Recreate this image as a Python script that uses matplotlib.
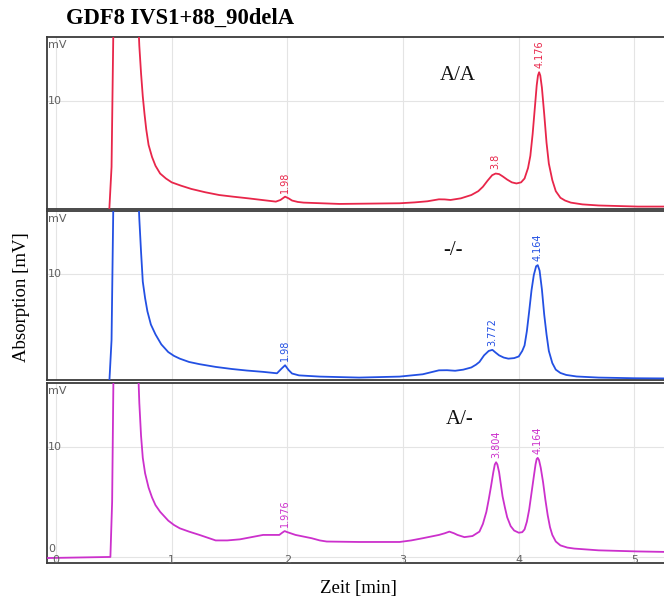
import matplotlib
matplotlib.use("Agg")
import matplotlib.pyplot as plt

# ---------------- data ----------------
title = "GDF8 IVS1+88_90delA"
genotypes = ["A/A", "-/-", "A/-"]
colors = ["#e8264a", "#2350e3", "#cc30cc"]

red_t = [-0.08, 0.46, 0.48, 0.50, 0.70, 0.72, 0.735, 0.75, 0.765, 0.78, 0.80, 0.83, 0.86, 0.90,
         0.95, 1.00, 1.08, 1.17, 1.29, 1.41, 1.53, 1.66, 1.78, 1.90, 1.94, 1.98, 2.01, 2.04,
         2.09, 2.14, 2.45, 2.97, 3.10, 3.21, 3.31, 3.36, 3.41, 3.50, 3.59, 3.65, 3.69, 3.73,
         3.77, 3.80, 3.83, 3.86, 3.90, 3.94, 3.98, 4.02, 4.05, 4.08, 4.10, 4.12, 4.14, 4.155,
         4.166, 4.176, 4.186, 4.20, 4.22, 4.24, 4.26, 4.29, 4.32, 4.36, 4.40, 4.45, 4.55, 4.69,
         5.03, 5.30]
red_v = [0, 0, 4, 20, 20, 15, 12.5, 10.4, 8.8, 7.4, 6.0, 4.9, 4.1, 3.4,
         2.95, 2.6, 2.3, 2.0, 1.7, 1.45, 1.3, 1.15, 1.0, 0.85, 1.0, 1.3, 1.15, 0.95,
         0.82, 0.76, 0.64, 0.7, 0.78, 0.88, 1.06, 1.05, 1.0, 1.15, 1.45, 1.8, 2.2, 2.75,
         3.25, 3.4, 3.35, 3.15, 2.85, 2.6, 2.5, 2.6, 2.95, 3.9, 5.0, 7.0, 9.5, 11.4,
         12.3, 12.6, 12.3, 11.2, 8.8, 6.2, 4.3, 2.8, 1.8, 1.2, 0.95, 0.76, 0.6, 0.5,
         0.4, 0.4]

blue_t = [-0.08, 0.46, 0.48, 0.50, 0.70, 0.72, 0.735, 0.75, 0.77, 0.79, 0.82, 0.86, 0.91, 0.97,
          1.02, 1.07, 1.15, 1.24, 1.38, 1.52, 1.65, 1.79, 1.91, 1.95, 1.98, 2.01, 2.04, 2.10,
          2.28, 2.62, 2.97, 3.17, 3.31, 3.38, 3.45, 3.52, 3.59, 3.63, 3.66, 3.70, 3.74, 3.772,
          3.80, 3.83, 3.87, 3.91, 3.96, 4.00, 4.03, 4.05, 4.07, 4.09, 4.11, 4.13, 4.15, 4.164,
          4.18, 4.20, 4.22, 4.24, 4.26, 4.29, 4.32, 4.36, 4.41, 4.50, 4.69, 5.00, 5.30]
blue_v = [0, 0, 4, 20, 20, 15, 12, 9.3, 7.8, 6.6, 5.4, 4.5, 3.6, 2.9,
          2.55, 2.3, 2.0, 1.8, 1.55, 1.36, 1.22, 1.1, 0.97, 1.4, 1.7, 1.27, 0.95, 0.78,
          0.67, 0.58, 0.67, 0.88, 1.24, 1.25, 1.2, 1.3, 1.5, 1.75, 2.0, 2.6, 3.0, 3.1,
          2.85, 2.6, 2.4, 2.3, 2.35, 2.5, 3.0, 3.5, 4.8, 6.6, 8.5, 9.9, 10.7, 10.8,
          10.3, 8.6, 6.3, 4.5, 3.0, 1.9, 1.3, 1.0, 0.82, 0.68, 0.58, 0.52, 0.5]

mag_t = [-0.08, 0.47, 0.485, 0.50, 0.70, 0.72, 0.735, 0.75, 0.77, 0.80, 0.83, 0.86, 0.90, 0.97,
         1.02, 1.07, 1.15, 1.24, 1.31, 1.38, 1.48, 1.59, 1.69, 1.79, 1.93, 1.955, 1.976, 2.00,
         2.07, 2.14, 2.21, 2.28, 2.34, 2.62, 2.97, 3.07, 3.17, 3.31, 3.36, 3.40, 3.44, 3.47,
         3.53, 3.60, 3.66, 3.69, 3.72, 3.74, 3.76, 3.78, 3.793, 3.804, 3.815, 3.83, 3.845, 3.86,
         3.88, 3.90, 3.93, 3.96, 4.00, 4.03, 4.05, 4.07, 4.09, 4.11, 4.13, 4.145, 4.155, 4.164,
         4.175, 4.19, 4.21, 4.23, 4.25, 4.27, 4.29, 4.32, 4.36, 4.42, 4.48, 4.69, 5.03, 5.30]
mag_v = [-0.1, 0, 5, 20, 20, 14, 11, 9.0, 7.6, 6.3, 5.4, 4.7, 4.1, 3.3,
         2.9, 2.6, 2.3, 2.0, 1.75, 1.5, 1.5, 1.6, 1.8, 2.0, 2.0, 2.2, 2.35, 2.25,
         2.0, 1.85, 1.7, 1.5, 1.4, 1.36, 1.36, 1.5, 1.7, 2.0, 2.15, 2.3, 2.15, 2.0,
         1.8, 1.9, 2.3, 3.0, 4.1, 5.2, 6.4, 7.7, 8.4, 8.6, 8.4, 7.7, 6.6, 5.5,
         4.5, 3.6, 2.8, 2.4, 2.2, 2.25, 2.5, 3.2, 4.3, 5.8, 7.3, 8.4, 8.9, 9.0,
         8.8, 8.1, 6.8, 5.2, 3.8, 2.7, 2.0, 1.4, 1.05, 0.85, 0.76, 0.6, 0.5, 0.45]

peak_labels = [
    [("1.98", 1.98, 1.3), ("3.8", 3.80, 3.4), ("4.176", 4.176, 12.6)],
    [("1.98", 1.98, 1.7), ("3.772", 3.772, 3.1), ("4.164", 4.164, 10.8)],
    [("1.976", 1.976, 2.35), ("3.804", 3.804, 8.6), ("4.164", 4.164, 9.0)],
]
x_ticks = [0, 1, 2, 3, 4, 5]

traces = [(red_t, red_v), (blue_t, blue_v), (mag_t, mag_v)]

# ---------------- layout ----------------
W, H = 664, 601
fig = plt.figure(figsize=(W / 100, H / 100), dpi=100)

def fr(left, top, right, bottom):
    return [left / W, 1 - bottom / H, (right - left) / W, (bottom - top) / H]

panels = [
    (fr(47, 37, 668, 209), (0.18, 15.8)),
    (fr(47, 211, 668, 380), (0.36, 15.72)),
    (fr(47, 383, 668, 563), (-0.55, 15.8)),
]
text_pos = [(458, 76), (453, 250), (460, 420)]

spine_col = "#3a3a3a"
grid_col = "#e4e4e4"
tick_col = "#606060"

for i, ((rect, ylim), (t, v)) in enumerate(zip(panels, traces)):
    ax = fig.add_axes(rect)
    ax.set_xlim(-0.078, 5.29)
    ax.set_ylim(*ylim)
    for x in x_ticks:
        ax.axvline(x, color=grid_col, lw=0.8, zorder=0)
    ax.axhline(10, color=grid_col, lw=0.8, zorder=0)
    ax.axhline(0, color=grid_col, lw=0.8, zorder=0)
    ax.plot(t, v, color=colors[i], lw=1.3, zorder=3, solid_joinstyle="round")
    for lab, px, py in peak_labels[i]:
        ax.annotate(lab, (px, py), xytext=(0, 3), textcoords="offset points",
                    rotation=90, ha="center", va="bottom", fontsize=7,
                    color=colors[i], family=["Liberation Sans Narrow", "DejaVu Sans"])
    ax.set_xticks([])
    ax.set_yticks([])
    for s in ["left", "top", "bottom"]:
        ax.spines[s].set_color(spine_col)
        ax.spines[s].set_linewidth(1.3)
    ax.spines["right"].set_visible(False)
    ax.text(0.002, 0.985, "mV", transform=ax.transAxes, ha="left", va="top",
            fontsize=8, color=tick_col)
    ax.text(0.002, 10, "10", transform=ax.get_yaxis_transform(), ha="left", va="center",
            fontsize=8, color=tick_col)
    if i == 2:
        ax.text(0.002, 0.25, "0", transform=ax.get_yaxis_transform(), ha="left", va="bottom",
                fontsize=8, color=tick_col)
        for x in x_ticks:
            ax.text(x, 0.015, str(x), transform=ax.get_xaxis_transform(), ha="center",
                    va="center", fontsize=8, color=tick_col)
    fig.text(text_pos[i][0] / W, 1 - text_pos[i][1] / H, genotypes[i],
             ha="center", va="center", fontsize=15, family="Liberation Serif", color="#111111")

fig.text(180 / W, 1 - 18 / H, title, ha="center", va="center", fontsize=16.3,
         fontweight="bold", family="Liberation Serif")
fig.text(22 / W, 1 - 297 / H, "Absorption [mV]", rotation=90, ha="center", va="center",
         fontsize=13.5, family="Liberation Serif")
fig.text(358 / W, 1 - 588 / H, "Zeit [min]", ha="center", va="center",
         fontsize=13.5, family="Liberation Serif")

fig.savefig("out.png", dpi=100)
